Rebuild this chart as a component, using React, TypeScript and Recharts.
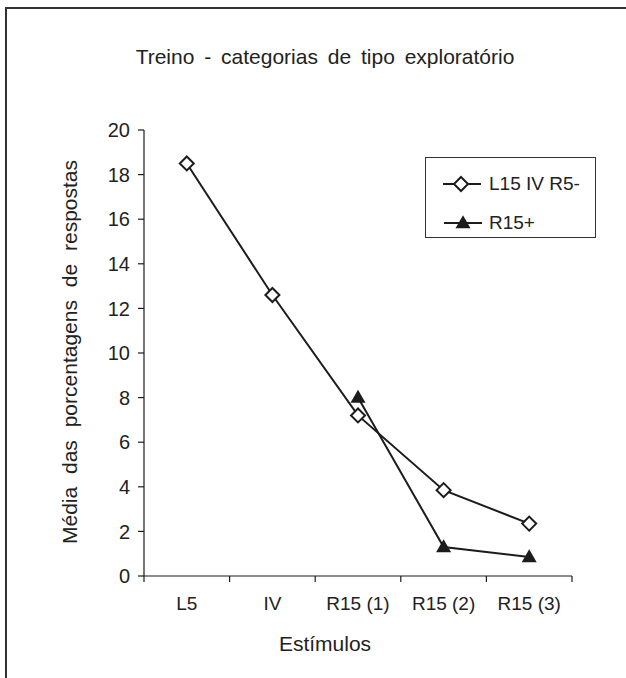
import React from 'react';
import { LineChart, Line, XAxis, YAxis, Legend } from 'recharts';

// Stimulus categories on the x axis
const stimuli = ['L5', 'IV', 'R15 (1)', 'R15 (2)', 'R15 (3)'];
// Mean response percentages per group
const groupA = [18.5, 12.6, 7.2, 3.85, 2.35]; // L15 IV R5-
const groupB = [null, null, 8.0, 1.3, 0.85]; // R15+
const yTicks = [0, 2, 4, 6, 8, 10, 12, 14, 16, 18, 20];

const seriesNames = { a: 'L15 IV R5-', b: 'R15+' };

const FONT = '"Liberation Sans", Arial, sans-serif';
const INK = '#1c1c1c';
const HALF_BAND = 42.8;

const data = stimuli.map((cat, i) => ({ cat, a: groupA[i], b: groupB[i] }));

const Diamond = ({ cx, cy, r = 7 }: { cx: number; cy: number; r?: number }) => (
  <path
    d={`M${cx},${cy - r} L${cx + r},${cy} L${cx},${cy + r} L${cx - r},${cy} Z`}
    fill="#fff"
    stroke={INK}
    strokeWidth={2}
  />
);

const Triangle = ({ cx, cy, w = 15, h = 13 }: { cx: number; cy: number; w?: number; h?: number }) => (
  <path
    d={`M${cx},${cy - h * 0.6} L${cx + w / 2},${cy + h * 0.4} L${cx - w / 2},${cy + h * 0.4} Z`}
    fill={INK}
  />
);

const diamondDot = (p: any) =>
  p.cy == null ? <g key={`da${p.index}`} /> : <Diamond key={`da${p.index}`} cx={p.cx} cy={p.cy} />;

const triangleDot = (p: any) =>
  p.cy == null ? <g key={`tb${p.index}`} /> : <Triangle key={`tb${p.index}`} cx={p.cx} cy={p.cy} />;

// category label at band centre, tick marks on band edges
const StimulusTick = (props: any) => {
  const { x, y, payload, index } = props;
  const axisY = y - 6;
  return (
    <g>
      <line x1={x - HALF_BAND} y1={axisY} x2={x - HALF_BAND} y2={axisY + 6} stroke={INK} strokeWidth={1.2} />
      {index === stimuli.length - 1 && (
        <line x1={x + HALF_BAND} y1={axisY} x2={x + HALF_BAND} y2={axisY + 6} stroke={INK} strokeWidth={1.2} />
      )}
      <text x={x} y={axisY + 34} textAnchor="middle" fontSize={19} fontFamily={FONT} fill="#222">
        {payload.value}
      </text>
    </g>
  );
};

const LegendBox = () => (
  <div
    style={{
      width: 169,
      height: 79,
      border: '1px solid #333',
      background: '#fff',
      fontFamily: FONT,
      fontSize: 19,
      color: '#222',
    }}
  >
    <div style={{ position: 'relative', height: 39 }}>
      <svg width={60} height={39} style={{ position: 'absolute', left: 0, top: 0 }}>
        <line x1={17} y1={26} x2={55} y2={26} stroke={INK} strokeWidth={2} />
        <Diamond cx={35} cy={26} r={7} />
      </svg>
      <span style={{ position: 'absolute', left: 63, top: 15 }}>{seriesNames.a}</span>
    </div>
    <div style={{ position: 'relative', height: 39 }}>
      <svg width={60} height={39} style={{ position: 'absolute', left: 0, top: 0 }}>
        <line x1={18} y1={26} x2={56} y2={26} stroke={INK} strokeWidth={2} />
        <Triangle cx={37} cy={26} />
      </svg>
      <span style={{ position: 'absolute', left: 63, top: 15 }}>{seriesNames.b}</span>
    </div>
  </div>
);

export default function App() {
  return (
    <div
      style={{
        position: 'absolute',
        left: 0,
        top: 0,
        width: 626,
        height: 678,
        overflow: 'hidden',
        background: '#fff',
      }}
    >
      <div
        style={{
          position: 'absolute',
          left: 5,
          top: 7,
          width: 700,
          height: 700,
          borderLeft: '2px solid #333',
          borderTop: '2px solid #333',
        }}
      />
      <div
        style={{
          position: 'absolute',
          left: 0,
          top: 45,
          width: 650,
          textAlign: 'center',
          fontFamily: FONT,
          fontSize: 21,
          wordSpacing: 4,
          color: '#222',
        }}
      >
        Treino - categorias de tipo exploratório
      </div>
      <div
        style={{
          position: 'absolute',
          left: 70 - 220,
          top: 352 - 12,
          width: 440,
          textAlign: 'center',
          transform: 'rotate(-90deg)',
          fontFamily: FONT,
          fontSize: 21,
          wordSpacing: 7,
          color: '#222',
          lineHeight: '24px',
        }}
      >
        Média das porcentagens de respostas
      </div>
      <div
        style={{
          position: 'absolute',
          left: 0,
          top: 632,
          width: 650,
          textAlign: 'center',
          fontFamily: FONT,
          fontSize: 21,
          color: '#222',
        }}
      >
        Estímulos
      </div>
      <div style={{ position: 'absolute', left: 0, top: 0 }}>
        <LineChart
          width={626}
          height={678}
          data={data}
          margin={{ top: 130, right: 54, left: 84, bottom: 62 }}
        >
          <XAxis
            dataKey="cat"
            interval={0}
            height={40}
            padding={{ left: HALF_BAND, right: HALF_BAND }}
            tickLine={false}
            tickSize={6}
            tickMargin={0}
            axisLine={{ stroke: INK, strokeWidth: 1.2 }}
            tick={<StimulusTick />}
          />
          <YAxis
            width={60}
            domain={[0, 20]}
            ticks={yTicks}
            interval={0}
            tickSize={6}
            tickMargin={8}
            axisLine={{ stroke: INK, strokeWidth: 1.2 }}
            tickLine={{ stroke: INK, strokeWidth: 1.2 }}
            tick={{ fill: '#222', fontSize: 20, fontFamily: FONT }}
          />
          <Legend
            layout="vertical"
            align="center"
            verticalAlign="middle"
            content={() => <LegendBox />}
            wrapperStyle={{ left: 425, top: 157, width: 171, height: 81 }}
          />
          <Line
            dataKey="a"
            name={seriesNames.a}
            stroke={INK}
            strokeWidth={2}
            dot={diamondDot}
            activeDot={false}
            isAnimationActive={false}
          />
          <Line
            dataKey="b"
            name={seriesNames.b}
            stroke={INK}
            strokeWidth={2}
            dot={triangleDot}
            activeDot={false}
            isAnimationActive={false}
          />
        </LineChart>
      </div>
    </div>
  );
}
